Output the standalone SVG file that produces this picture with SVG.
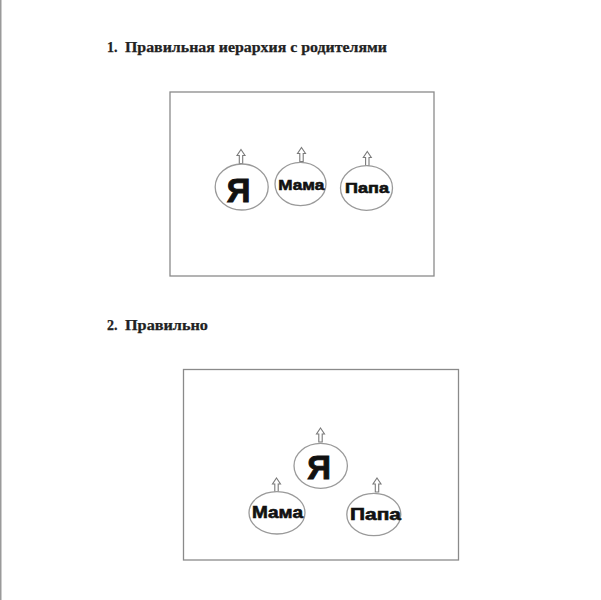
<svg xmlns="http://www.w3.org/2000/svg" width="601" height="600" viewBox="0 0 601 600">
<style>
.title{font-family:"Liberation Serif","Times New Roman",serif;font-weight:bold;font-size:14px;fill:#222;stroke:#222;stroke-width:0.25}
.frame{fill:none;stroke:#8a8a8a;stroke-width:1.3}
.node ellipse{fill:#fff;stroke:#9a9a9a;stroke-width:1.3}
.lbl{font-family:"Liberation Sans",Arial,sans-serif;font-weight:bold;fill:#111;stroke:#111;text-anchor:middle}
.big{font-size:33px;stroke-width:0.9}
.sm{font-size:15px;stroke-width:0.6}
.md{font-size:16.5px;stroke-width:0.6}
.arrow{fill:#fff;stroke:#7a7a7a;stroke-width:1.1}
</style>
<defs>
<path id="up" d="M0,0 L4,6 L1.7,6 L1.7,14 L-1.7,14 L-1.7,6 L-4,6 Z"/>
</defs>
<rect x="0" y="0" width="601" height="600" fill="#fff"/>
<rect x="0" y="0" width="1.5" height="600" fill="#9a9a9a"/>

<text class="title" x="107" y="52">1.</text>
<text class="title" x="125" y="52" textLength="262" lengthAdjust="spacingAndGlyphs">Правильная иерархия с родителями</text>
<text class="title" x="107" y="330">2.</text>
<text class="title" x="125" y="330" textLength="83" lengthAdjust="spacingAndGlyphs">Правильно</text>

<rect class="frame" x="170" y="92" width="264" height="184"/>
<rect class="frame" x="183.5" y="369.5" width="275" height="190.5"/>

<g id="connectors">
<use href="#up" class="arrow" x="241" y="149.5"/>
<use href="#up" class="arrow" x="301.5" y="147.5"/>
<use href="#up" class="arrow" x="367.3" y="151.5"/>
<use href="#up" class="arrow" x="320.5" y="428"/>
<use href="#up" class="arrow" x="276.5" y="478"/>
<use href="#up" class="arrow" x="377" y="478"/>
</g>

<g id="node-ya1" class="node">
<ellipse cx="241.7" cy="187" rx="26.5" ry="23"/>
<text class="lbl big" x="238.5" y="201.5">Я</text>
</g>
<g id="node-mama1" class="node">
<ellipse cx="300.5" cy="184" rx="25.5" ry="21.7"/>
<text class="lbl sm" x="301.3" y="189.5" textLength="46" lengthAdjust="spacingAndGlyphs">Мама</text>
</g>
<g id="node-papa1" class="node">
<ellipse cx="366.5" cy="188" rx="26" ry="22.3"/>
<text class="lbl sm" x="367" y="192.5" textLength="44" lengthAdjust="spacingAndGlyphs">Папа</text>
</g>

<g id="node-ya2" class="node">
<ellipse cx="320.7" cy="465.8" rx="26.7" ry="22.5"/>
<text class="lbl big" x="319" y="479">Я</text>
</g>
<g id="node-mama2" class="node">
<ellipse cx="277" cy="512.8" rx="28" ry="21.2"/>
<text class="lbl md" x="277.5" y="517.5" textLength="51" lengthAdjust="spacingAndGlyphs">Мама</text>
</g>
<g id="node-papa2" class="node">
<ellipse cx="373.8" cy="514.5" rx="27" ry="21.2"/>
<text class="lbl md" x="375.5" y="519.5" textLength="51" lengthAdjust="spacingAndGlyphs">Папа</text>
</g>
</svg>
